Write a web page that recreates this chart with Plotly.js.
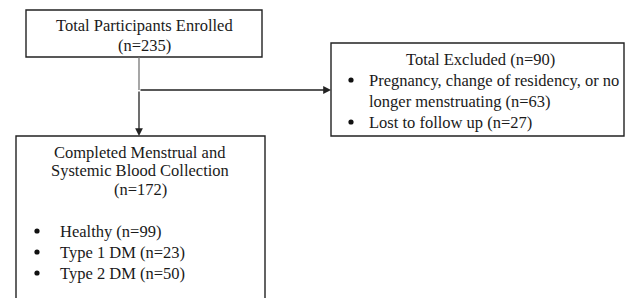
<!DOCTYPE html>
<html>
<head>
<meta charset="utf-8">
<script src="https://cdn.plot.ly/plotly-3.0.1.min.js"></script>
<style>html,body{margin:0;padding:0;background:#fff;}#chart{width:625px;height:298px;}</style>
</head>
<body>
<div id="chart"></div>
<script>
// ---- data ----
const enrolledLabel = "Total Participants Enrolled";
const enrolledN = 235;
const excludedLabel = "Total Excluded";
const excludedN = 90;
const excludedReasons = ["Pregnancy, change of residency, or no", "longer menstruating"];
const excludedReasonN = [63];
const lostLabel = "Lost to follow up";
const lostN = 27;
const completedLines = ["Completed Menstrual and", "Systemic Blood Collection"];
const completedN = 172;
const groups = ["Healthy", "Type 1 DM", "Type 2 DM"];
const groupN = [99, 23, 50];

// ---- layout helpers ----
const FONT = {family: "Liberation Serif, Times New Roman, serif", size: 16.5, color: "#1a1a1a"};
const annotations = [];
function txt(x, y, text, anchor) {
  annotations.push({x: x, y: y, xref: "x", yref: "y", text: text, showarrow: false,
    xanchor: anchor || "center", yanchor: "middle", font: FONT});
}
function arrow(x0, y0, x1, y1) {
  annotations.push({x: x1, y: y1, ax: x0, ay: y0, xref: "x", yref: "y", axref: "x", ayref: "y",
    text: "", showarrow: true, arrowhead: 2, arrowsize: 1.2, arrowwidth: 1.3, arrowcolor: "#222"});
}
const shapes = [];
function box(x0, y0, x1, y1) {
  shapes.push({type: "rect", xref: "x", yref: "y", x0: x0, y0: y0, x1: x1, y1: y1,
    line: {color: "#222", width: 1.4}, fillcolor: "rgba(0,0,0,0)"});
}
function line(x0, y0, x1, y1, c) {
  shapes.push({type: "line", xref: "x", yref: "y", x0: x0, y0: y0, x1: x1, y1: y1,
    line: {color: c || "#555", width: 1.3}});
}
function bullet(x, y) {
  const r = 2.6;
  shapes.push({type: "circle", xref: "x", yref: "y", x0: x - r, x1: x + r, y0: y - r, y1: y + r,
    line: {width: 0}, fillcolor: "#111"});
}

// boxes
box(26, 10, 262, 57);
box(331, 43, 624, 136);
box(16, 136, 265, 310);

// connectors
line(139, 57, 139, 90, "#777");
arrow(139, 90, 139, 136);
arrow(139, 90, 331, 90);

// box 1 text
txt(144, 25, enrolledLabel);
txt(144, 45, "(n=" + enrolledN + ")");

// box 2 text
txt(480, 59, excludedLabel + " (n=" + excludedN + ")");
bullet(351, 80);
txt(367, 80, excludedReasons[0], "left");
txt(367, 101, excludedReasons[1] + " (n=" + excludedReasonN[0] + ")", "left");
bullet(351, 122);
txt(367, 122, lostLabel + " (n=" + lostN + ")", "left");

// box 3 text
txt(140, 152, completedLines[0]);
txt(140, 170, completedLines[1]);
txt(140, 189, "(n=" + completedN + ")");
const gy = [231, 252, 273];
groups.forEach(function (g, i) {
  bullet(37, gy[i]);
  txt(58, gy[i], g + " (n=" + groupN[i] + ")", "left");
});

const layout = {
  width: 625, height: 298,
  margin: {l: 0, r: 0, t: 0, b: 0},
  paper_bgcolor: "#fff", plot_bgcolor: "#fff",
  xaxis: {range: [0, 625], visible: false, fixedrange: true},
  yaxis: {range: [298, 0], visible: false, fixedrange: true},
  showlegend: false,
  shapes: shapes,
  annotations: annotations
};
Plotly.newPlot("chart", [], layout, {staticPlot: true, displayModeBar: false});
</script>
</body>
</html>
